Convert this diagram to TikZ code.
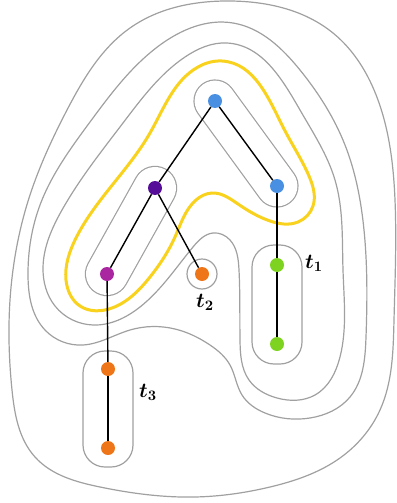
\documentclass[tikz,border=0pt]{standalone}
\usepackage{amsmath}
\usepackage{bm}
\usepackage{graphicx}
\usetikzlibrary{calc,hobby}
\definecolor{contourgray}{RGB}{160,160,160}
\definecolor{cutyellow}{RGB}{248,210,28}
\definecolor{vblue}{RGB}{74,144,226}
\definecolor{vpurple}{RGB}{86,14,152}
\definecolor{vmagenta}{RGB}{170,38,160}
\definecolor{vorange}{RGB}{238,117,24}
\definecolor{vgreen}{RGB}{126,211,33}
\newcommand{\treelabel}[1]{\scalebox{1.45}{$\boldsymbol{t_{#1}}$}}
\pgfdeclarelayer{bg}
\pgfsetlayers{bg,main}
\begin{document}
\begin{tikzpicture}[x=1pt,y=-1pt,
  contour/.style={draw=contourgray,line width=1.2pt},
  loop/.style={use Hobby shortcut,closed=true},
  capsule/.style={draw=contourgray,line width=1.2pt,double=white,double distance=#1,line cap=round},
  cutline/.style={draw=cutyellow,line width=3pt},
  edge/.style={draw=black,line width=1.4pt},
  vtx/.style={circle,inner sep=0pt,minimum size=14pt,fill=#1},
  lbl/.style={font=\fontsize{14}{16}\selectfont,inner sep=0pt}]
\useasboundingbox (0,0) rectangle (396,503);

% tree vertices
\node[vtx=vblue]    (A) at (215,101) {};
\node[vtx=vblue]    (B) at (277,186) {};
\node[vtx=vpurple]  (C) at (155,188) {};
\node[vtx=vmagenta] (D) at (107,274) {};
\node[vtx=vorange]  (E) at (202,274) {};
\node[vtx=vgreen]   (F) at (277,265) {};
\node[vtx=vgreen]   (G) at (277,344) {};
\node[vtx=vorange]  (H) at (108,369) {};
\node[vtx=vorange]  (I) at (108,448) {};

% tree edges
\draw[edge] (A) -- (B);
\draw[edge] (A) -- (C);
\draw[edge] (C) -- (D);
\draw[edge] (C) -- (E);
\draw[edge] (B) -- (F);
\draw[edge] (F) -- (G);
\draw[edge] (D) -- (H);
\draw[edge] (H) -- (I);

% subtree labels
\node[lbl] (l1) at (314,263) {\treelabel{1}};
\node[lbl] (l2) at (205,302) {\treelabel{2}};
\node[lbl] (l3) at (148,392) {\treelabel{3}};

\begin{pgfonlayer}{bg}
% outermost contour
\draw[contour,loop] (230,1) .. (333,33) .. (378,100) .. (395,200)
  .. (394,320) .. (380,410) .. (340,458) .. (270,487) .. (195,497)
  .. (100,487) .. (35,457) .. (12,390) .. (10,300) .. (30,195)
  .. (67,110) .. (130,28);
% second contour, excluding t3
\draw[contour,loop] (233,23) .. (300,70) .. (345,145) .. (364,230)
  .. (366,337) .. (350,397) .. (310,418) .. (265,413) .. (242,395)
  .. (230,365) .. (210,345) .. (175,329) .. (130,330) .. (83,345)
  .. (45,330) .. (28,275) .. (40,205) .. (90,122) .. (160,45);
% third contour, excluding t2
\draw[contour,loop] (227,43) .. (300,110) .. (335,180) .. (343,270)
  .. (340,357) .. (315,395) .. (277,398) .. (249,380) .. (240,340)
  .. (239,270) .. (230,240) .. (213,233) .. (193,247) .. (140,307)
  .. (93,325) .. (55,306) .. (43,268) .. (62,210) .. (123,123)
  .. (185,57);
% highlighted cut
\draw[cutline,loop] (222,61) .. (283,127) .. (309,176) .. (313,206)
  .. (298,222) .. (270,221) .. (238,204) .. (212,193) .. (196,200)
  .. (175,237) .. (150,277) .. (112,308) .. (80,306) .. (66,280)
  .. (76,238) .. (150,133) .. (198,67);
% innermost enclosures
\draw[capsule=40.8pt] (A.center) -- (B.center);
\draw[capsule=42pt] (C.center) -- (D.center);
\draw[contour] (E.center) circle (15);
\draw[contour,rounded corners=22pt] ($(F.center)+(-25,-20)$) rectangle ($(G.center)+(25,20)$);
\draw[contour,rounded corners=22pt] ($(H.center)+(-25,-18)$) rectangle ($(I.center)+(25,19)$);
\end{pgfonlayer}
\end{tikzpicture}
\end{document}
